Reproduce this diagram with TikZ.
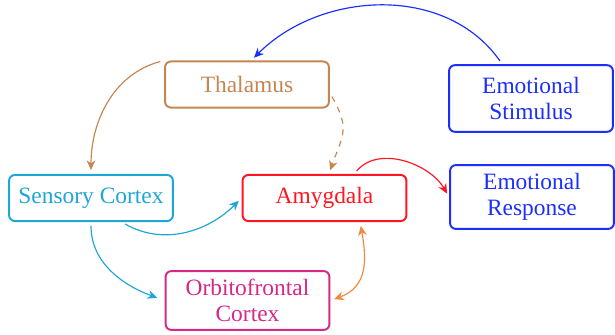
\documentclass[tikz,border=0pt]{standalone}
\usepackage{fontspec}
\setmainfont{Liberation Serif}
\usetikzlibrary{arrows.meta}

\definecolor{thalbrown}{RGB}{196,134,82}
\definecolor{sensecyan}{RGB}{30,166,214}
\definecolor{amygred}{RGB}{255,22,34}
\definecolor{emoblue}{RGB}{28,46,250}
\definecolor{orbmagenta}{RGB}{214,40,132}
\definecolor{orborange}{RGB}{245,136,60}

\begin{document}
\begin{tikzpicture}[x=0.018cm,y=0.018cm,shorten >=2pt,shorten <=2pt,>={Stealth[length=5pt,width=4.5pt]}]
    \tikzstyle{region}=[draw,rounded corners=3pt,line width=1pt,align=center,minimum width=2.95cm,minimum height=0.83cm,inner sep=2pt,font=\fontsize{12}{13.5}\selectfont]
    \tikzstyle{link}=[->,semithick]
    \useasboundingbox (0,0) rectangle (615,335);

    \node[region,thalbrown] (thal) at (247,250.5) {Thalamus};
    \node[region,emoblue,minimum height=1.2cm] (stim) at (531,236.5) {Emotional\\Stimulus};
    \node[region,sensecyan] (sens) at (91,137) {Sensory Cortex};
    \node[region,amygred] (amyg) at (324.5,137) {Amygdala};
    \node[region,emoblue,minimum height=1.15cm] (resp) at (532,138) {Emotional\\Response};
    \node[region,orbmagenta,minimum height=1.06cm] (orb) at (247.5,34.5) {Orbitofrontal\\Cortex};

    \draw[link,emoblue] (stim.130) to[out=125,in=45] (thal.80);
    \draw[link,thalbrown] (thal.north west) to[out=195,in=90] (sens.north);
    \draw[link,thalbrown,dashed] (thal.-6) to[out=-60,in=70,looseness=1.3] (amyg.80);
    \draw[link,amygred] (amyg.39) to[out=50,in=120] (resp.west);
    \draw[link,sensecyan] (sens.-38) to[out=-30,in=225] (amyg.west);
    \draw[link,sensecyan,shorten >=4pt] (sens.south) to[out=-90,in=160] (orb.west);
    \draw[<->,semithick,orborange] (amyg.-34) to[out=-80,in=20,looseness=1.2] (orb.east);
\end{tikzpicture}
\end{document}
